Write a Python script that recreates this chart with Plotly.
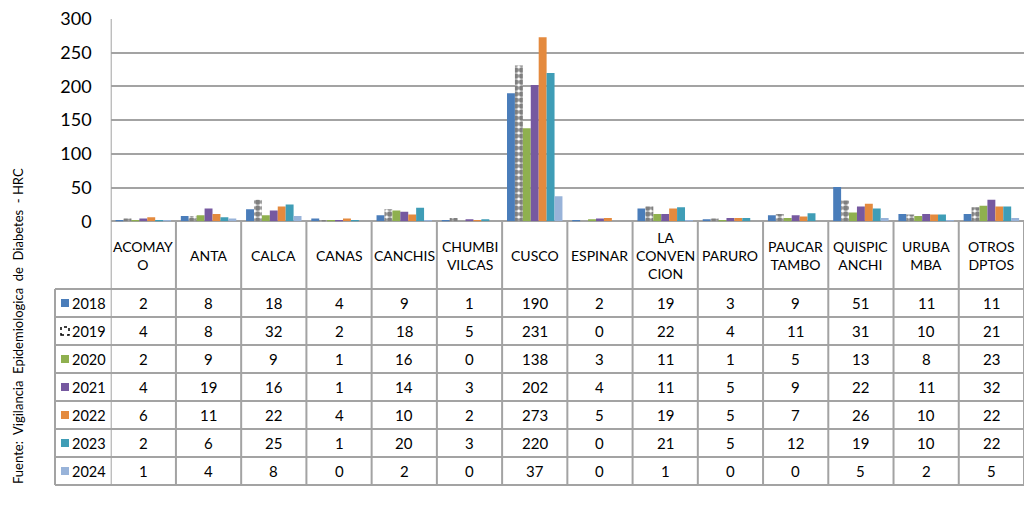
import plotly.graph_objects as go

categories = ["ACOMAY<br>O", "ANTA", "CALCA", "CANAS", "CANCHIS", "CHUMBI<br>VILCAS", "CUSCO",
              "ESPINAR", "LA<br>CONVEN<br>CION", "PARURO", "PAUCAR<br>TAMBO", "QUISPIC<br>ANCHI",
              "URUBA<br>MBA", "OTROS<br>DPTOS"]
years = ["2018", "2019", "2020", "2021", "2022", "2023", "2024"]
v2018 = [2, 8, 18, 4, 9, 1, 190, 2, 19, 3, 9, 51, 11, 11]
v2019 = [4, 8, 32, 2, 18, 5, 231, 0, 22, 4, 11, 31, 10, 21]
v2020 = [2, 9, 9, 1, 16, 0, 138, 3, 11, 1, 5, 13, 8, 23]
v2021 = [4, 19, 16, 1, 14, 3, 202, 4, 11, 5, 9, 22, 11, 32]
v2022 = [6, 11, 22, 4, 10, 2, 273, 5, 19, 5, 7, 26, 10, 22]
v2023 = [2, 6, 25, 1, 20, 3, 220, 0, 21, 5, 12, 19, 10, 22]
v2024 = [1, 4, 8, 0, 2, 0, 37, 0, 1, 0, 0, 5, 2, 5]
series = [v2018, v2019, v2020, v2021, v2022, v2023, v2024]
colors = ["#4A7DBA", None, "#8FB04F", "#7659A0", "#E48A3E", "#3F9DB6", "#98B3D9"]
ytick_vals = [0, 50, 100, 150, 200, 250, 300]

W, H = 1024, 515
FONT = "Lato"
GRID = "#a3a3a3"

def fy(py):
    return 1 - py / H

def fx(px):
    return px / W

x_left = 110.7
plot_top, plot_bot = 19, 221.3
hdr_bot = 289
row_h = 28
leg_left = 55

fig = go.Figure()
xs = list(range(len(categories)))
for k, (yr, vals) in enumerate(zip(years, series)):
    if yr == "2019":
        marker = dict(color="white",
                      pattern=dict(shape=".", fgcolor="black", bgcolor="white", size=6, solidity=0.7),
                      line=dict(width=0))
    else:
        marker = dict(color=colors[k], line=dict(width=0))
    fig.add_trace(go.Bar(x=xs, y=vals, name=yr, marker=marker))

shapes = []
annotations = []
n = len(categories)
for i in range(n + 1):
    shapes.append(dict(type="line", xref="x", yref="paper", x0=i - 0.5, x1=i - 0.5,
                       y0=fy(plot_bot if i > 0 else plot_top), y1=fy(hdr_bot + row_h * len(years)),
                       line=dict(color=GRID, width=2)))
shapes.append(dict(type="line", xref="paper", yref="paper", x0=fx(leg_left), x1=fx(leg_left),
                   y0=fy(hdr_bot), y1=fy(hdr_bot + row_h * len(years)), line=dict(color=GRID, width=2)))
for r in range(len(years) + 1):
    yy = fy(hdr_bot + r * row_h)
    shapes.append(dict(type="line", xref="paper", yref="paper", x0=fx(leg_left), x1=1.0,
                       y0=yy, y1=yy, line=dict(color=GRID, width=2)))

for i, c in enumerate(categories):
    annotations.append(dict(x=i, y=fy((plot_bot + hdr_bot) / 2), xref="x", yref="paper",
                            text=c, showarrow=False, font=dict(family=FONT, size=14, color="black"),
                            xanchor="center", yanchor="middle", align="center"))
for r, (yr, vals) in enumerate(zip(years, series)):
    yc = hdr_bot + r * row_h + row_h / 2
    for i, v in enumerate(vals):
        annotations.append(dict(x=i, y=fy(yc), xref="x", yref="paper", text=str(v), showarrow=False,
                                font=dict(family=FONT, size=15, color="black"),
                                xanchor="center", yanchor="middle"))
    annotations.append(dict(x=fx(70), y=fy(yc), xref="paper", yref="paper", text=yr, showarrow=False,
                            font=dict(family=FONT, size=14.5, color="black"),
                            xanchor="left", yanchor="middle"))
    sw = 8
    if yr == "2019":
        shapes.append(dict(type="rect", xref="paper", yref="paper", x0=fx(61), x1=fx(61 + sw),
                           y0=fy(yc + sw / 2), y1=fy(yc - sw / 2), fillcolor="white",
                           line=dict(color="black", width=1.5, dash="dot")))
    else:
        shapes.append(dict(type="rect", xref="paper", yref="paper", x0=fx(61), x1=fx(61 + sw),
                           y0=fy(yc + sw / 2), y1=fy(yc - sw / 2), fillcolor=colors[r],
                           line=dict(width=0)))

annotations.append(dict(x=fx(18), y=fy(326), xref="paper", yref="paper",
                        text="Fuente:&nbsp; Vigilancia&nbsp; Epidemiologica&nbsp; de&nbsp; Diabetes&nbsp; - HRC",
                        textangle=-90, showarrow=False,
                        font=dict(family=FONT, size=13, color="black"),
                        xanchor="center", yanchor="middle"))

fig.update_layout(
    width=W, height=H,
    margin=dict(l=0, r=0, t=0, b=0, pad=0, autoexpand=False),
    paper_bgcolor="white", plot_bgcolor="white",
    barmode="group", bargap=0.15, bargroupgap=0.0,
    showlegend=False,
    xaxis=dict(domain=[fx(x_left), 1.0], range=[-0.5, n - 0.5], showticklabels=False,
               showgrid=False, zeroline=False, showline=False, ticks="", automargin=False),
    yaxis=dict(domain=[fy(plot_bot), fy(plot_top)], range=[0, 300], tickvals=ytick_vals,
               showgrid=True, gridcolor=GRID, gridwidth=2, zeroline=True, zerolinecolor=GRID,
               zerolinewidth=2, showline=False, ticks="", ticklabelstandoff=18, automargin=False,
               tickfont=dict(family=FONT, size=18, color="black")),
    shapes=shapes, annotations=annotations,
)

fig.write_html("out.html", config={"displayModeBar": False},
               post_script="document.body.style.margin='0';document.body.style.overflow='hidden';")
